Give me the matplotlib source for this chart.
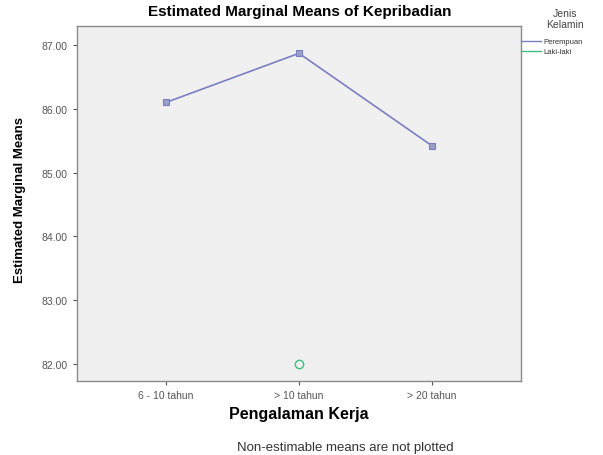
import matplotlib
matplotlib.use("Agg")
import matplotlib.pyplot as plt
from matplotlib.lines import Line2D
from matplotlib.ticker import FormatStrFormatter

plt.rcParams['font.family'] = ['Liberation Sans', 'DejaVu Sans']

categories = ["6 - 10 tahun", "> 10 tahun", "> 20 tahun"]
perempuan = [86.10, 86.87, 85.42]
laki_categories = ["> 10 tahun"]
laki_laki = [82.00]
y_ticks = [82, 83, 84, 85, 86, 87]

col_p = "#7a7fc4"
col_l = "#3cbf80"

fig = plt.figure(figsize=(6.03, 4.56), dpi=100)
ax = fig.add_axes([77/603, 1-382/456, 444/603, 355/456])
ax.set_facecolor("#f0f0f0")

xpos = {c: i for i, c in enumerate(categories)}
ax.plot([xpos[c] for c in categories], perempuan, color=col_p, lw=1.2,
        marker='s', ms=4, mfc='#9a9ec8', mec=col_p, mew=0.8)
ax.plot([xpos[c] for c in laki_categories], laki_laki, color=col_l, lw=1.2,
        linestyle='none', marker='o', ms=6, mfc='none', mec=col_l, mew=1.0)

ax.set_xlim(-0.669, 2.669)
ax.set_ylim(81.734, 87.298)
ax.set_xticks(range(len(categories)))
ax.set_xticklabels(categories)
ax.set_yticks(y_ticks)
ax.yaxis.set_major_formatter(FormatStrFormatter('%.2f'))
ax.tick_params(axis='both', labelsize=7.5, colors='#555555', length=3, width=0.8)
for s in ax.spines.values():
    s.set_color('#8a8a8a')
    s.set_linewidth(1.0)

fig.text(300/603, 1-12/456, "Estimated Marginal Means of Kepribadian",
         ha='center', va='center', fontsize=11, fontweight='bold')
fig.text(20/603, 1-200/456, "Estimated Marginal Means", rotation=90,
         ha='center', va='center', fontsize=9.5, fontweight='bold')
fig.text(299/603, 1-414/456, "Pengalaman Kerja", ha='center', va='center',
         fontsize=11.5, fontweight='bold')
fig.text(345/603, 1-448/456, "Non-estimable means are not plotted",
         ha='center', va='center', fontsize=9.5, color='#333333')

# legend
fig.text(565/603, 1-14/456, "Jenis", ha='center', va='center', fontsize=7.5, color='#444444')
fig.text(565/603, 1-25/456, "Kelamin", ha='center', va='center', fontsize=7.5, color='#444444')
for yy, lab, c in [(42, "Perempuan", col_p), (52, "Laki-laki", col_l)]:
    fig.add_artist(Line2D([521/603, 541/603], [1-yy/456, 1-yy/456], color=c, lw=1.0))
    fig.text(543/603, 1-yy/456, lab, ha='left', va='center', fontsize=5.5, color='#333333')

fig.savefig("out.png", dpi=100)
